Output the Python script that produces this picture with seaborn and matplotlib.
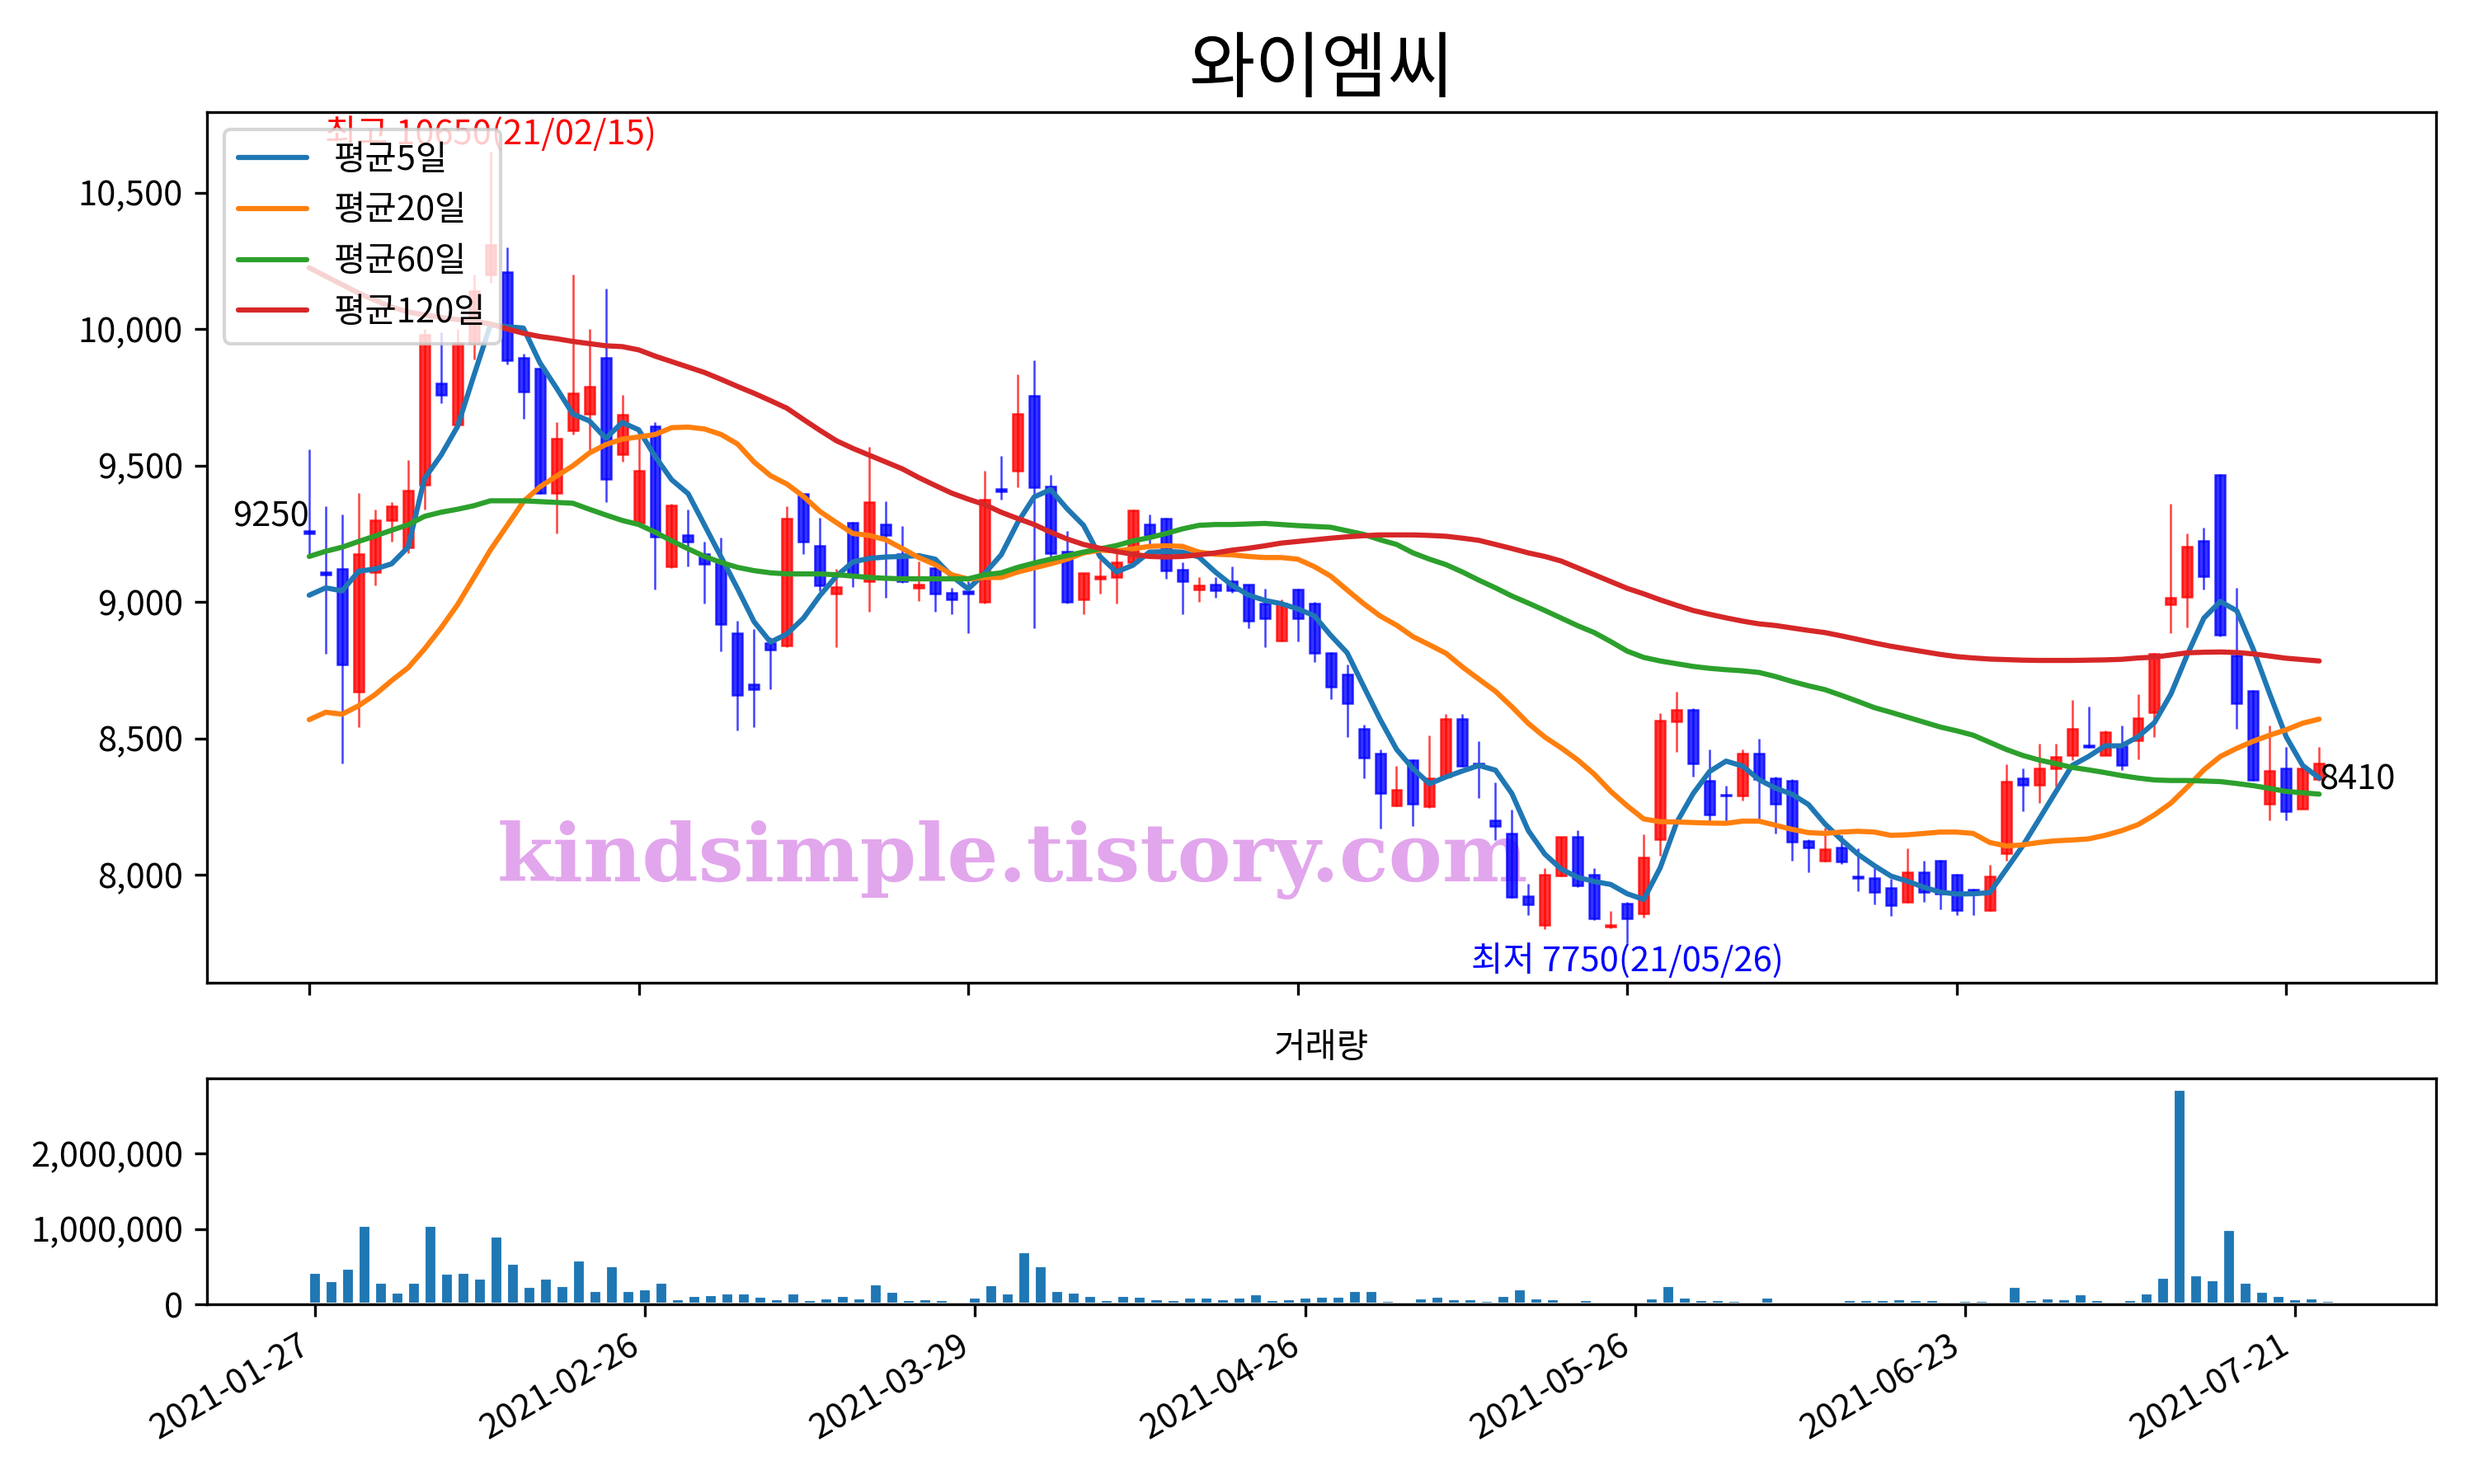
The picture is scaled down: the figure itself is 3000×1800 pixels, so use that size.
import numpy as np
import matplotlib
matplotlib.use('Agg')
import matplotlib.pyplot as plt
from matplotlib.ticker import FuncFormatter
import seaborn as sns

# ---- data (daily candles, 2021-01-27 .. 2021-07-23) ----
open_ = [9260, 9110, 9120, 8670, 9110, 9300, 9200, 9430, 9800, 9650,
         9950, 10200, 10210, 9895, 9855, 9400, 9630, 9690, 9895, 9540,
         9290, 9645, 9130, 9245, 9175, 9145, 8885, 8700, 8850, 8840,
         9395, 9205, 9030, 9290, 9075, 9285, 9175, 9052, 9125, 9035,
         9040, 9000, 9415, 9480, 9755, 9425, 9185, 9010, 9085, 9090,
         9145, 9285, 9305, 9117, 9046, 9064, 9077, 9064, 8996, 8858,
         9046, 8994, 8812, 8735, 8535, 8445, 8253, 8420, 8250, 8360,
         8572, 8410, 8200, 8152, 7922, 7817, 7997, 8141, 8002, 7810,
         7895, 7860, 8130, 8562, 8606, 8344, 8295, 8290, 8444, 8354,
         8346, 8125, 8051, 8100, 7995, 7990, 7953, 7900, 8011, 8051,
         8001, 7945, 7870, 8080, 8355, 8330, 8390, 8440, 8475, 8440,
         8473, 8493, 8595, 8991, 9020, 9225, 9466, 8805, 8674, 8259,
         8390, 8243, 8350]
high = [9560, 9350, 9320, 9400, 9340, 9365, 9520, 10000, 9990, 10000,
        10200, 10650, 10300, 9910, 9860, 9660, 10200, 10000, 10150, 9760,
        9600, 9660, 9360, 9340, 9220, 9235, 8930, 8900, 8870, 9350,
        9400, 9310, 9120, 9295, 9570, 9370, 9280, 9150, 9130, 9052,
        9075, 9480, 9535, 9835, 9885, 9465, 9260, 9105, 9155, 9210,
        9340, 9320, 9310, 9145, 9090, 9090, 9130, 9065, 9050, 9010,
        9050, 9000, 8815, 8770, 8550, 8460, 8400, 8425, 8510, 8590,
        8590, 8490, 8340, 8240, 7968, 8025, 8141, 8165, 8025, 7867,
        7900, 8150, 8593, 8671, 8610, 8459, 8328, 8459, 8500, 8360,
        8350, 8130, 8172, 8147, 8098, 8026, 7986, 8098, 8051, 8055,
        8005, 7950, 8036, 8407, 8390, 8480, 8480, 8640, 8617, 8530,
        8548, 8661, 8812, 9361, 9251, 9273, 9468, 9053, 8676, 8548,
        8469, 8392, 8469]
low = [9175, 8810, 8410, 8540, 9060, 9220, 9180, 9340, 9730, 9640,
       9890, 10170, 9870, 9670, 9395, 9250, 9615, 9555, 9365, 9515,
       9280, 9045, 9125, 9130, 8995, 8820, 8530, 8540, 8680, 8835,
       9175, 9040, 8835, 9055, 8965, 9015, 9070, 9005, 8965, 8955,
       8885, 8995, 9375, 9420, 8905, 9165, 8995, 8955, 9030, 8995,
       9140, 9200, 9085, 8955, 9000, 9015, 9035, 8905, 8835, 8855,
       8855, 8780, 8645, 8505, 8355, 8170, 8250, 8180, 8245, 8355,
       8395, 8283, 8127, 7915, 7852, 7802, 7995, 7955, 7834, 7805,
       7750, 7845, 8071, 8451, 8361, 8197, 8197, 8273, 8205, 8152,
       8051, 8011, 8048, 8041, 7940, 7893, 7850, 7898, 7900, 7873,
       7853, 7853, 7868, 8053, 8233, 8263, 8325, 8421, 8466, 8438,
       8385, 8424, 8506, 8886, 8906, 9046, 8873, 8535, 8346, 8201,
       8201, 8241, 8345]
close = [9250, 9100, 8770, 9175, 9300, 9350, 9410, 9980, 9760, 9950,
         10140, 10310, 9885, 9770, 9400, 9600, 9765, 9790, 9450, 9685,
         9480, 9240, 9355, 9220, 9140, 8920, 8660, 8680, 8825, 9305,
         9220, 9060, 9055, 9095, 9365, 9245, 9075, 9064, 9030, 9010,
         9030, 9375, 9405, 9690, 9420, 9180, 9000, 9105, 9093, 9147,
         9335, 9245, 9115, 9075, 9062, 9044, 9044, 8930, 8940, 8996,
         8941, 8812, 8690, 8630, 8430, 8300, 8313, 8260, 8355, 8572,
         8400, 8400, 8180, 7920, 7892, 8002, 8141, 7960, 7840, 7817,
         7840, 8065, 8565, 8606, 8410, 8220, 8290, 8444, 8350, 8260,
         8122, 8100, 8094, 8050, 7990, 7937, 7890, 8011, 7937, 7930,
         7870, 7935, 7994, 8342, 8330, 8390, 8434, 8535, 8470, 8522,
         8401, 8574, 8810, 9015, 9204, 9094, 8880, 8630, 8348, 8381,
         8233, 8390, 8410]
volume = [425000, 316000, 479000, 1049000, 298000, 163000, 298000, 1049000, 417000, 425000,
          352000, 907000, 548000, 243000, 352000, 254000, 592000, 189000, 515000, 189000,
          207000, 298000, 80000, 123000, 134000, 152000, 152000, 109000, 80000, 152000,
          69000, 91000, 123000, 91000, 272000, 178000, 69000, 80000, 69000, 44000,
          98000, 261000, 152000, 697000, 512000, 189000, 163000, 123000, 69000, 123000,
          109000, 80000, 69000, 98000, 98000, 80000, 98000, 142000, 69000, 80000,
          98000, 109000, 109000, 189000, 189000, 54000, 25000, 91000, 109000, 80000,
          80000, 54000, 123000, 207000, 91000, 80000, 36000, 69000, 47000, 36000,
          47000, 91000, 250000, 102000, 69000, 69000, 58000, 36000, 102000, 47000,
          36000, 25000, 15000, 69000, 69000, 69000, 80000, 69000, 69000, 36000,
          58000, 58000, 36000, 243000, 69000, 91000, 80000, 145000, 69000, 47000,
          69000, 156000, 363000, 2845000, 396000, 330000, 998000, 298000, 178000, 123000,
          80000, 91000, 58000]

# moving averages as drawn on the chart
ma5 = [9025, 9052, 9041, 9113, 9121, 9140, 9201, 9453, 9538, 9643,
       9831, 10016, 10009, 10004, 9877, 9785, 9689, 9664, 9600, 9658,
       9631, 9533, 9448, 9397, 9281, 9165, 9049, 8928, 8853, 8883,
       8941, 9024, 9095, 9147, 9160, 9165, 9167, 9170, 9157, 9095,
       9048, 9105, 9173, 9291, 9385, 9412, 9342, 9281, 9167, 9110,
       9135, 9183, 9185, 9183, 9165, 9110, 9062, 9026, 9006, 8994,
       8975, 8950, 8878, 8814, 8691, 8570, 8460, 8389, 8334, 8359,
       8381, 8401, 8384, 8298, 8162, 8076, 8021, 7991, 7976, 7965,
       7931, 7910, 8026, 8192, 8298, 8379, 8417, 8399, 8349, 8318,
       8296, 8258, 8187, 8129, 8076, 8034, 7996, 7977, 7955, 7937,
       7930, 7931, 7935, 8020, 8106, 8204, 8303, 8401, 8434, 8473,
       8473, 8506, 8558, 8663, 8808, 8941, 9002, 8968, 8827, 8663,
       8506, 8401, 8355]
ma20 = [8569, 8596, 8589, 8620, 8661, 8712, 8759, 8828, 8905, 8990,
        9090, 9191, 9279, 9368, 9422, 9461, 9499, 9546, 9577, 9597,
        9605, 9614, 9639, 9641, 9634, 9614, 9579, 9513, 9463, 9432,
        9387, 9332, 9291, 9251, 9244, 9228, 9196, 9163, 9137, 9100,
        9084, 9090, 9090, 9110, 9125, 9140, 9157, 9180, 9190, 9187,
        9195, 9204, 9206, 9204, 9183, 9175, 9173, 9167, 9163, 9163,
        9157, 9130, 9095, 9044, 8994, 8949, 8915, 8873, 8843, 8812,
        8762, 8717, 8673, 8616, 8555, 8505, 8465, 8421, 8369, 8306,
        8253, 8205, 8195, 8194, 8192, 8190, 8189, 8197, 8197, 8182,
        8167, 8155, 8152, 8157, 8160, 8157, 8145, 8147, 8152, 8157,
        8157, 8152, 8119, 8106, 8110, 8119, 8125, 8128, 8132, 8145,
        8162, 8184, 8220, 8263, 8322, 8385, 8434, 8464, 8490, 8512,
        8532, 8556, 8571]
ma60 = [9167, 9186, 9201, 9222, 9242, 9263, 9283, 9314, 9329, 9340,
        9353, 9371, 9371, 9371, 9368, 9365, 9362, 9340, 9319, 9299,
        9284, 9256, 9224, 9195, 9167, 9145, 9127, 9115, 9107, 9103,
        9103, 9103, 9100, 9095, 9090, 9087, 9085, 9085, 9085, 9085,
        9085, 9100, 9107, 9127, 9143, 9157, 9170, 9183, 9195, 9207,
        9224, 9236, 9251, 9268, 9281, 9284, 9284, 9286, 9288, 9284,
        9280, 9277, 9274, 9261, 9248, 9228, 9211, 9180, 9157, 9137,
        9110, 9080, 9052, 9022, 8996, 8969, 8941, 8913, 8888, 8855,
        8820, 8797, 8784, 8774, 8764, 8757, 8752, 8748, 8742, 8727,
        8709, 8693, 8679, 8658, 8636, 8613, 8596, 8578, 8560, 8542,
        8528, 8512, 8486, 8460, 8438, 8421, 8408, 8394, 8385, 8375,
        8364, 8355, 8348, 8346, 8346, 8344, 8342, 8335, 8327, 8317,
        8306, 8301, 8296]
ma120 = [10225, 10194, 10163, 10132, 10106, 10081, 10063, 10052, 10043, 10035,
         10029, 10019, 10001, 9985, 9973, 9965, 9955, 9947, 9939, 9936,
         9924, 9901, 9881, 9861, 9841, 9816, 9790, 9765, 9738, 9710,
         9669, 9629, 9591, 9563, 9538, 9513, 9488, 9456, 9427, 9399,
         9377, 9357, 9329, 9306, 9284, 9256, 9231, 9211, 9197, 9185,
         9175, 9167, 9165, 9167, 9173, 9180, 9190, 9197, 9206, 9216,
         9222, 9228, 9234, 9239, 9243, 9246, 9246, 9246, 9244, 9241,
         9234, 9226, 9211, 9196, 9180, 9167, 9150, 9125, 9100, 9075,
         9050, 9030, 9008, 8988, 8969, 8955, 8942, 8930, 8920, 8914,
         8905, 8896, 8888, 8876, 8863, 8850, 8838, 8828, 8818, 8808,
         8800, 8795, 8791, 8789, 8787, 8786, 8786, 8786, 8787, 8788,
         8790, 8795, 8798, 8806, 8814, 8816, 8817, 8815, 8810, 8802,
         8794, 8789, 8784]

ma_labels = ['평균5일', '평균20일', '평균60일', '평균120일']
tick_dates = ['2021-01-27', '2021-02-26', '2021-03-29', '2021-04-26',
              '2021-05-26', '2021-06-23', '2021-07-21']
high_note = '최고 10650(21/02/15)'
low_note = '최저 7750(21/05/26)'
title = '와이엠씨'

for arr in (open_, high, low, close, volume, ma5, ma20, ma60, ma120):
    assert len(arr) == len(close)

# ---- style ----
sns.set_style('ticks', rc={'axes.edgecolor': 'black', 'xtick.color': 'black',
                           'ytick.color': 'black', 'text.color': 'black',
                           'axes.labelcolor': 'black', 'axes.linewidth': 0.8})
plt.rcParams['font.family'] = ['Noto Sans CJK KR', 'DejaVu Sans']
plt.rcParams['axes.unicode_minus'] = False

o = np.array(open_); h = np.array(high); l = np.array(low); c = np.array(close)
idx = np.arange(len(c))
up = c > o
colors = np.where(up, 'red', 'blue')

fig = plt.figure(figsize=(10, 6), dpi=300)
ax1 = fig.add_axes([0.0837, 0.3378, 0.901, 0.5866])
ax2 = fig.add_axes([0.0837, 0.1209, 0.901, 0.1523])

# watermark
ax1.text(0.3614, 0.141, 'kindsimple.tistory.com', transform=ax1.transAxes,
         fontsize=23.5, fontweight='heavy', family='DejaVu Serif', color='#e2a6ec',
         ha='center', va='center', zorder=0)

# candles
ax1.vlines(idx, l, h, colors=colors, linewidth=0.6, alpha=0.75, zorder=2)
ax1.bar(idx, c - o, bottom=o, width=0.6, color=colors, edgecolor=colors,
        linewidth=0.6, alpha=0.8, zorder=3)

# moving averages
for vals, lab, col in zip([ma5, ma20, ma60, ma120], ma_labels,
                          ['#1f77b4', '#ff7f0e', '#2ca02c', '#d62728']):
    sns.lineplot(x=idx, y=vals, ax=ax1, label=lab, color=col, linewidth=1.5, zorder=4)

ax1.legend(loc='upper left', fontsize=10)

lo, hi = l.min(), h.max()
pad = (hi - lo) * 0.05
ax1.set_ylim(lo - pad, hi + pad)
ax1.set_xlim(-6.2, 129.1)
ax1.yaxis.set_major_formatter(FuncFormatter(lambda v, p: f'{v:,.0f}'))
ax1.set_xticks(idx[::20])
ax1.set_xticklabels([])
ax1.set_title(title, fontsize=21)

hi_i = int(np.argmax(h)); lo_i = int(np.argmin(l))
ax1.text(hi_i, h[hi_i], high_note, color='red', ha='center', va='bottom', fontsize=10, zorder=1)
ax1.text(lo_i, l[lo_i], low_note, color='blue', ha='center', va='top', fontsize=10)
ax1.text(0, c[0], f'{c[0]}', ha='right', va='bottom', fontsize=10)
ax1.text(idx[-1], c[-1], f'{c[-1]}', ha='left', va='top', fontsize=10)

# volume
ax2.bar(idx, volume, width=0.8, color='#1f77b4')
ax2.set_xlim(-6.54, 128.54)
ax2.set_ylim(0, max(volume) * 1.05)
ax2.yaxis.set_major_formatter(FuncFormatter(lambda v, p: f'{v:,.0f}'))
ax2.set_xticks(idx[::20])
ax2.set_xticklabels(tick_dates, rotation=30, ha='right')
ax2.set_title('거래량', fontsize=10)

fig.savefig('out.png', dpi=300)
